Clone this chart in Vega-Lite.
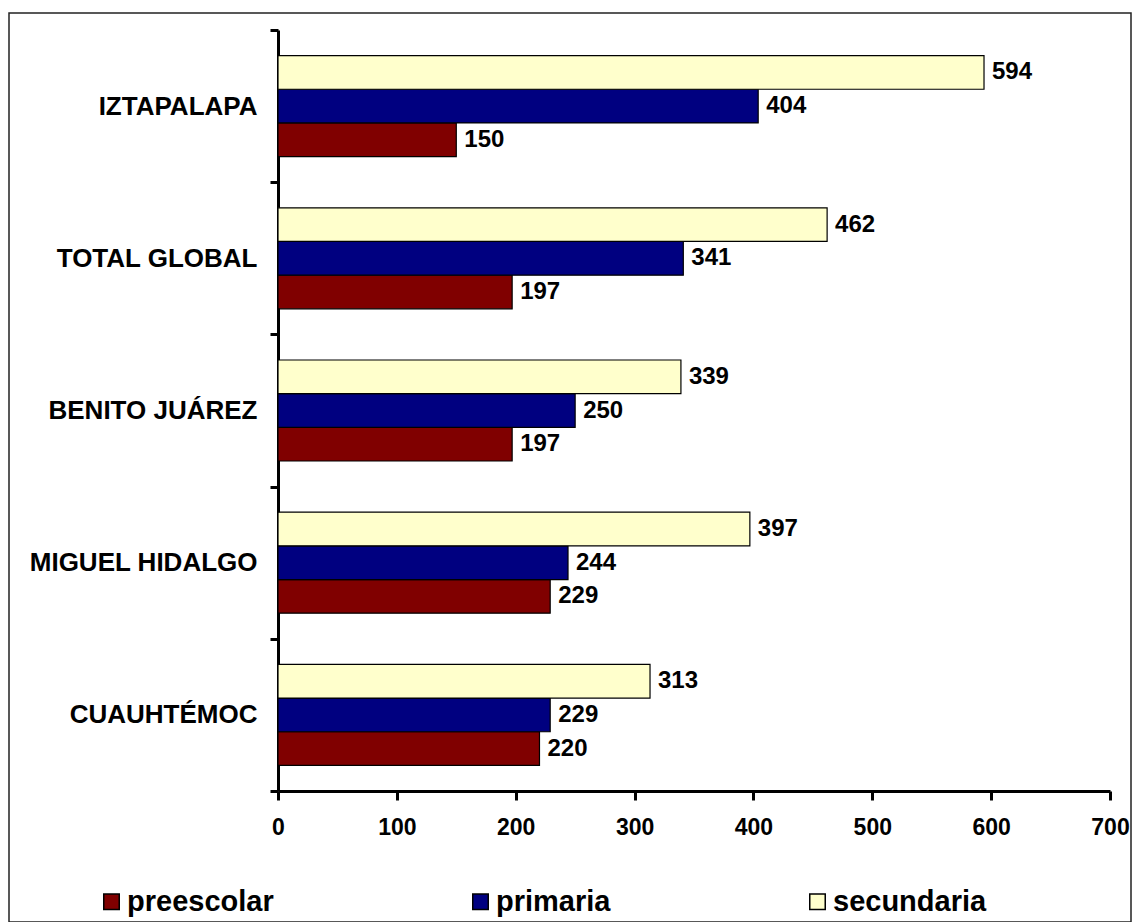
{
  "$schema": "https://vega.github.io/schema/vega-lite/v6.json",
  "width": 1122,
  "height": 909,
  "autosize": {"type": "none"},
  "padding": {"left": 9, "top": 13, "right": 2, "bottom": 0},
  "background": "white",
  "config": {
    "view": {"stroke": "#222222", "strokeWidth": 1.5},
    "font": "Liberation Sans"
  },
  "data": {
    "values": [
      {"delegacion": "IZTAPALAPA", "nivel": "preescolar", "valor": 150},
      {"delegacion": "IZTAPALAPA", "nivel": "primaria", "valor": 404},
      {"delegacion": "IZTAPALAPA", "nivel": "secundaria", "valor": 594},
      {"delegacion": "TOTAL GLOBAL", "nivel": "preescolar", "valor": 197},
      {"delegacion": "TOTAL GLOBAL", "nivel": "primaria", "valor": 341},
      {"delegacion": "TOTAL GLOBAL", "nivel": "secundaria", "valor": 462},
      {"delegacion": "BENITO JUÁREZ", "nivel": "preescolar", "valor": 197},
      {"delegacion": "BENITO JUÁREZ", "nivel": "primaria", "valor": 250},
      {"delegacion": "BENITO JUÁREZ", "nivel": "secundaria", "valor": 339},
      {"delegacion": "MIGUEL HIDALGO", "nivel": "preescolar", "valor": 229},
      {"delegacion": "MIGUEL HIDALGO", "nivel": "primaria", "valor": 244},
      {"delegacion": "MIGUEL HIDALGO", "nivel": "secundaria", "valor": 397},
      {"delegacion": "CUAUHTÉMOC", "nivel": "preescolar", "valor": 220},
      {"delegacion": "CUAUHTÉMOC", "nivel": "primaria", "valor": 229},
      {"delegacion": "CUAUHTÉMOC", "nivel": "secundaria", "valor": 313}
    ]
  },
  "encoding": {
    "y": {
      "field": "delegacion",
      "type": "nominal",
      "sort": ["IZTAPALAPA", "TOTAL GLOBAL", "BENITO JUÁREZ", "MIGUEL HIDALGO", "CUAUHTÉMOC"],
      "scale": {"range": [17, 778], "paddingInner": 0, "paddingOuter": 0},
      "axis": {
        "orient": "left",
        "offset": -269,
        "title": null,
        "domainWidth": 3,
        "domainColor": "black",
        "tickWidth": 3,
        "tickColor": "black",
        "tickSize": 8,
        "tickBand": "extent",
        "labelFontSize": 26,
        "labelFontWeight": "bold",
        "labelFont": "Liberation Sans",
        "labelPadding": 13,
        "labelColor": "black",
        "labelLimit": 400
      }
    },
    "yOffset": {
      "field": "nivel",
      "type": "nominal",
      "sort": ["secundaria", "primaria", "preescolar"],
      "scale": {"paddingInner": 0, "paddingOuter": 0.76}
    },
    "x": {
      "field": "valor",
      "type": "quantitative",
      "scale": {"domain": [0, 700], "range": [269, 1101], "nice": false, "zero": true},
      "axis": {
        "orient": "bottom",
        "offset": -131,
        "title": null,
        "values": [0, 100, 200, 300, 400, 500, 600, 700],
        "grid": false,
        "domainWidth": 3,
        "domainColor": "black",
        "tickWidth": 3,
        "tickColor": "black",
        "tickSize": 9,
        "labelFontSize": 23,
        "labelFontWeight": "bold",
        "labelFont": "Liberation Sans",
        "labelPadding": 16,
        "labelColor": "black",
        "labelFlush": false,
        "labelOverlap": false
      }
    }
  },
  "layer": [
    {
      "mark": {"type": "bar", "stroke": "black", "strokeWidth": 1.2},
      "encoding": {
        "color": {
          "field": "nivel",
          "type": "nominal",
          "scale": {
            "domain": ["preescolar", "primaria", "secundaria"],
            "range": ["#800000", "#000080", "#FFFFCC"]
          },
          "legend": {
            "orient": "none",
            "legendX": 88,
            "legendY": 874,
            "direction": "horizontal",
            "title": null,
            "symbolType": "square",
            "symbolSize": 240,
            "symbolStrokeColor": "black",
            "symbolStrokeWidth": 1.5,
            "labelFontSize": 29,
            "labelFontWeight": "bold",
            "labelFont": "Liberation Sans",
            "labelColor": "black",
            "labelOffset": 1,
            "labelLimit": 400,
            "columnPadding": 192
          }
        }
      }
    },
    {
      "mark": {
        "type": "text",
        "align": "left",
        "baseline": "middle",
        "dx": 8,
        "fontSize": 24,
        "fontWeight": "bold",
        "font": "Liberation Sans",
        "color": "black"
      },
      "encoding": {
        "text": {"field": "valor", "type": "quantitative"}
      }
    }
  ]
}
